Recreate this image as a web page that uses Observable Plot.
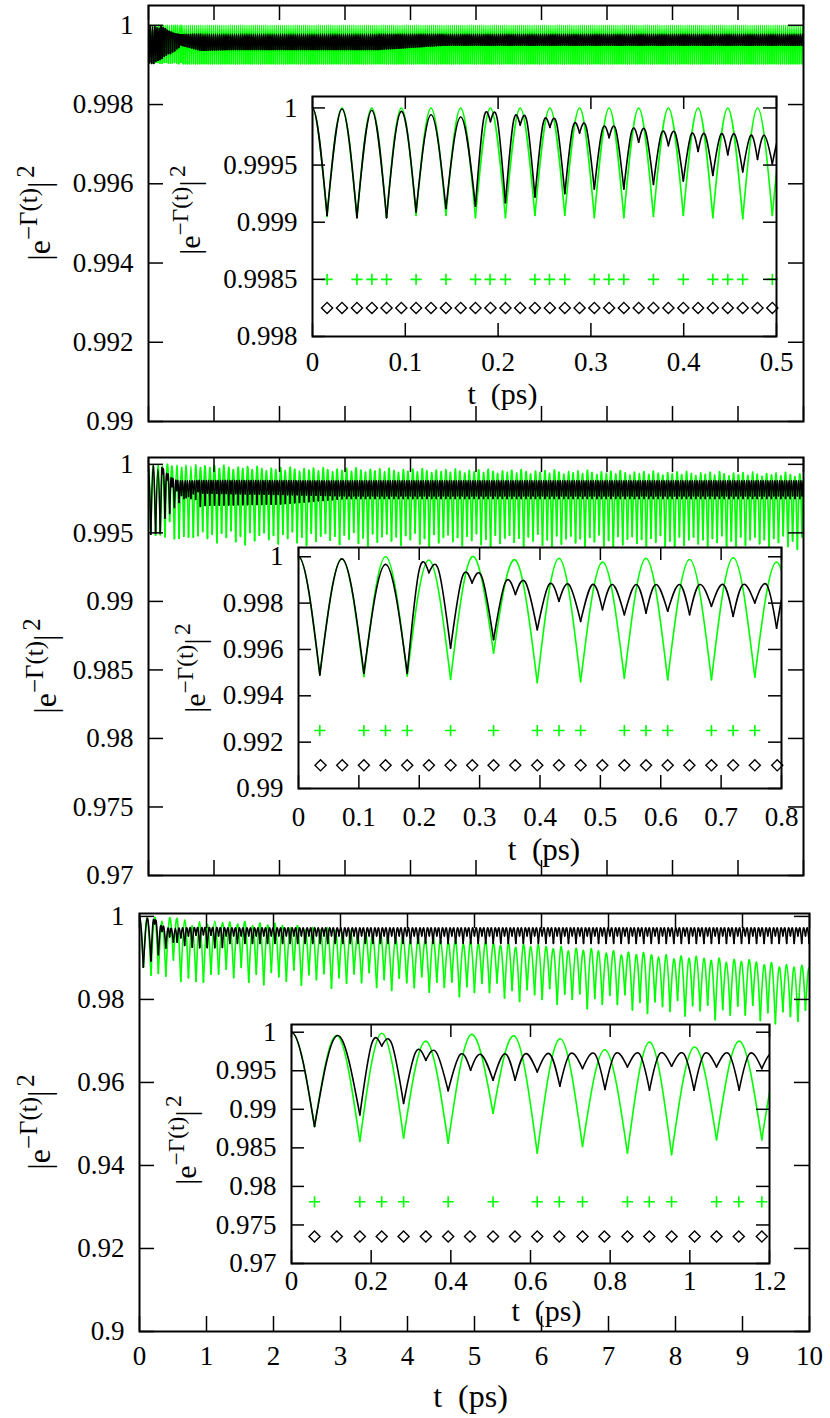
<!DOCTYPE html>
<html><head><meta charset="utf-8">
<script src="https://cdn.jsdelivr.net/npm/d3@7"></script>
<script src="https://cdn.jsdelivr.net/npm/@observablehq/plot@0.6"></script>
<style>
html,body{margin:0;padding:0;background:#fff;}
#root{position:relative;width:830px;height:1418px;overflow:hidden;background:#fff;font-family:'Liberation Serif','Times New Roman','DejaVu Serif',serif;}
#root svg, #root svg text, #root svg tspan{font-family:'Liberation Serif','Times New Roman','DejaVu Serif',serif !important;}
</style></head><body><div id="root"></div>
<script>
// ---------------- DATA ----------------
// Inset 1 (top panel, 0 - 0.5 ps). Trough times (first and last are just outside the axis range)
const in1TroughT = [-0.0160, 0.0157, 0.0479, 0.0798, 0.1116, 0.1438, 0.1756, 0.2079, 0.2397, 0.2719, 0.3037, 0.3355, 0.3674, 0.3996, 0.4314, 0.4636, 0.4955, 0.5275];
const in1GreenTroughV = [0.99904, 0.99905, 0.99904, 0.99904, 0.99906, 0.99906, 0.99904, 0.99904, 0.99906, 0.99906, 0.99904, 0.99904, 0.99905, 0.99906, 0.99904, 0.99903, 0.99906, 0.99904];
const in1GreenPeakV = [1.0, 1.0, 1.0, 1.0, 1.0, 1.0, 1.0, 1.0, 1.0, 1.0, 1.0, 1.0, 1.0, 1.0, 1.0, 1.0, 1.0];
const in1BlackTroughV = [0.99905, 0.99906, 0.99904, 0.99904, 0.99909, 0.99912, 0.99914, 0.99917, 0.99922, 0.99925, 0.99929, 0.99929, 0.99933, 0.99936, 0.99941, 0.99944, 0.99951, 0.99945];
const in1BlackHumpV = [1.0, 0.99999, 0.99998, 0.99997, 0.99994, 0.99992, 0.99990, 0.99988, 0.99986, 0.99983, 0.99981, 0.99980, 0.99978, 0.99977, 0.99977, 0.99976, 0.99976];
const in1BlackDipV = [null, null, null, null, null, null, 0.99988, 0.99985, 0.99983, 0.99978, 0.99974, 0.99970, 0.99967, 0.99962, 0.99959, 0.99955, 0.99950];
const in1PlusT = [0.0157, 0.0479, 0.0640, 0.0798, 0.1116, 0.1438, 0.1756, 0.1913, 0.2079, 0.2397, 0.2554, 0.2719, 0.3037, 0.3194, 0.3355, 0.3674, 0.3996, 0.4314, 0.4475, 0.4636, 0.4955];
const in1PlusV = 0.9985;
const in1DiamondT = [0.0157, 0.0318, 0.0479, 0.0640, 0.0798, 0.0957, 0.1116, 0.1277, 0.1438, 0.1597, 0.1756, 0.1918, 0.2079, 0.2238, 0.2397, 0.2558, 0.2719, 0.2878, 0.3037, 0.3196, 0.3355, 0.3515, 0.3674, 0.3835, 0.3996, 0.4155, 0.4314, 0.4475, 0.4636, 0.4795, 0.4955];
const in1DiamondV = 0.99825;

// Inset 2 (middle panel, 0 - 0.8 ps)
const in2TroughT = [-0.0353, 0.0353, 0.1083, 0.1801, 0.2519, 0.3231, 0.3955, 0.4673, 0.5397, 0.6115, 0.6840, 0.7558, 0.8279];
const in2GreenTroughV = [0.99490, 0.99490, 0.99483, 0.99486, 0.99471, 0.99584, 0.99457, 0.99461, 0.99476, 0.99469, 0.99469, 0.99480, 0.99470];
const in2GreenPeakV = [1.0, 0.99991, 1.0, 0.99986, 1.0, 0.99986, 0.99993, 0.99977, 0.99993, 0.99988, 0.99996, 0.99977];
const in2BlackTroughV = [0.99490, 0.99490, 0.99497, 0.99497, 0.99606, 0.99642, 0.99685, 0.99721, 0.99750, 0.99765, 0.99786, 0.99801, 0.99780];
const in2BlackHumpV = [1.0, 0.99991, 0.99967, 0.99938, 0.99912, 0.99890, 0.99880, 0.99880, 0.99880, 0.99880, 0.99880, 0.99880];
const in2BlackDipV = [null, null, null, 0.99931, 0.99887, 0.99837, 0.99808, 0.99772, 0.99757, 0.99750, 0.99743, 0.99692];
const in2PlusT = [0.0353, 0.1083, 0.1442, 0.1801, 0.2519, 0.3231, 0.3955, 0.4314, 0.4673, 0.5397, 0.5756, 0.6115, 0.6840, 0.7199, 0.7558];
const in2PlusV = 0.9925;
const in2DiamondT = [0.0365, 0.0724, 0.1083, 0.1442, 0.1801, 0.2160, 0.2519, 0.2878, 0.3231, 0.3590, 0.3955, 0.4314, 0.4673, 0.5032, 0.5397, 0.5756, 0.6115, 0.6474, 0.6840, 0.7199, 0.7558, 0.7929];
const in2DiamondV = 0.991;

// Inset 3 (bottom panel, 0 - 1.2 ps)
const in3TroughT = [-0.0578, 0.0578, 0.1716, 0.2814, 0.3933, 0.5060, 0.6169, 0.7306, 0.8434, 0.9542, 1.0670, 1.1807, 1.2935];
const in3GreenTroughV = [0.98777, 0.98777, 0.98584, 0.98627, 0.98562, 0.98948, 0.98433, 0.98519, 0.98433, 0.98412, 0.98605, 0.98605, 0.98550];
const in3GreenPeakV = [1.0, 0.99957, 0.99987, 0.99884, 0.99966, 0.99944, 0.99914, 0.99773, 0.99871, 0.99807, 0.99884, 0.99850];
const in3BlackTroughV = [0.98777, 0.98777, 0.98927, 0.99077, 0.99240, 0.99378, 0.99485, 0.99528, 0.99549, 0.99558, 0.99549, 0.99528, 0.99540];
const in3BlackHumpV = [1.0, 0.99957, 0.99850, 0.99742, 0.99712, 0.99720, 0.99721, 0.99721, 0.99721, 0.99721, 0.99721, 0.99720];
const in3BlackDipV = [null, null, 0.99820, 0.99635, 0.99506, 0.99378, 0.99300, 0.99258, 0.99249, 0.99249, 0.99249, 0.99250];
const in3PlusT = [0.0578, 0.1716, 0.2265, 0.2814, 0.3933, 0.5060, 0.6169, 0.6723, 0.7306, 0.8434, 0.8982, 0.9542, 1.0670, 1.1229, 1.1807];
const in3PlusV = 0.978;
const in3DiamondT = [0.0578, 0.1137, 0.1716, 0.2265, 0.2814, 0.3373, 0.3933, 0.4482, 0.5060, 0.5610, 0.6169, 0.6723, 0.7306, 0.7855, 0.8434, 0.8983, 0.9542, 1.0120, 1.0670, 1.1229, 1.1807];
const in3DiamondV = 0.9735;

// Main panels: oscillation period and envelopes (after the inset range)
const p1Period = 0.0320;
const p1GreenKnotT = [0, 10];
const p1GreenHi = [1.0, 1.0];
const p1GreenLo = [0.99903, 0.99903];
const p1BlackKnotT = [0.5, 0.8, 1.2, 3.5, 4.5, 10];
const p1BlackHi = [0.99977, 0.99978, 0.99978, 0.99978, 0.99978, 0.99978];
const p1BlackLo = [0.9995, 0.99937, 0.99939, 0.99939, 0.9995, 0.9995];

const p2Period = 0.07205;
const p2GreenKnotT = [0.8, 2, 4, 6, 8, 10];
const p2GreenHi = [0.9999, 0.9997, 0.9996, 0.9995, 0.9994, 0.9993];
const p2GreenLo = [0.9948, 0.9947, 0.9946, 0.9945, 0.9944, 0.9944];
const p2GreenLoVar = [0.0003, -0.0002, 0.0001, -0.0005, 0.0002, -0.0001, 0.0004, -0.0004, 0.0000, -0.0006, 0.0003, -0.0003, 0.0001];
const p2GreenHiVar = [0, -0.0001, 0.00005, -0.00015, 0.0001, -0.00005, -0.0002];
const p2BlackKnotT = [0.8, 2, 3, 10];
const p2BlackHi = [0.9988, 0.9988, 0.9988, 0.9988];
const p2BlackLo = [0.9979, 0.9978, 0.9977, 0.9977];
const p2BlackDip = [0.9970, 0.9971, 0.9975, 0.9975];

const p3Period = 0.11229;
const p3GreenKnotT = [1.2, 2, 3, 4, 5, 6, 7, 8, 9, 10];
const p3GreenHi = [0.9988, 0.998, 0.9965, 0.9948, 0.9937, 0.9928, 0.9915, 0.9903, 0.9893, 0.9876];
const p3GreenLo = [0.9858, 0.9855, 0.9848, 0.984, 0.9825, 0.981, 0.9795, 0.978, 0.9768, 0.9755];
const p3GreenLoVar = [0.0015, -0.0005, 0.0020, -0.0015, 0.0005, -0.0020, 0.0010, 0.0000, -0.0010, 0.0018, -0.0018, 0.0008, -0.0003, 0.0012, -0.0022, 0.0004, -0.0008];
const p3GreenHiVar = [0, -0.0004, 0.0003, -0.0006, 0.0002, -0.0002, 0.0004];
const p3BlackKnotT = [1.2, 10];
const p3BlackHi = [0.9972, 0.9972];
const p3BlackLo = [0.9953, 0.9953];
const p3BlackDip = [0.9935, 0.9935];

// Ticks
const mainXTicks = [0, 1, 2, 3, 4, 5, 6, 7, 8, 9, 10];
const mainXLabels = ["0", "1", "2", "3", "4", "5", "6", "7", "8", "9", "10"];
const p1YTicks = [0.99, 0.992, 0.994, 0.996, 0.998, 1];
const p1YLabels = ["0.99", "0.992", "0.994", "0.996", "0.998", "1"];
const p2YTicks = [0.97, 0.975, 0.98, 0.985, 0.99, 0.995, 1];
const p2YLabels = ["0.97", "0.975", "0.98", "0.985", "0.99", "0.995", "1"];
const p3YTicks = [0.9, 0.92, 0.94, 0.96, 0.98, 1];
const p3YLabels = ["0.9", "0.92", "0.94", "0.96", "0.98", "1"];
const in1XTicks = [0, 0.1, 0.2, 0.3, 0.4, 0.5];
const in1XLabels = ["0", "0.1", "0.2", "0.3", "0.4", "0.5"];
const in1YTicks = [0.998, 0.9985, 0.999, 0.9995, 1];
const in1YLabels = ["0.998", "0.9985", "0.999", "0.9995", "1"];
const in2XTicks = [0, 0.1, 0.2, 0.3, 0.4, 0.5, 0.6, 0.7, 0.8];
const in2XLabels = ["0", "0.1", "0.2", "0.3", "0.4", "0.5", "0.6", "0.7", "0.8"];
const in2YTicks = [0.99, 0.992, 0.994, 0.996, 0.998, 1];
const in2YLabels = ["0.99", "0.992", "0.994", "0.996", "0.998", "1"];
const in3XTicks = [0, 0.2, 0.4, 0.6, 0.8, 1, 1.2];
const in3XLabels = ["0", "0.2", "0.4", "0.6", "0.8", "1", "1.2"];
const in3YTicks = [0.97, 0.975, 0.98, 0.985, 0.99, 0.995, 1];
const in3YLabels = ["0.97", "0.975", "0.98", "0.985", "0.99", "0.995", "1"];
const xTitleText = "t\u00a0\u00a0(ps)";

// ---------------- BUILD ----------------
const root = document.getElementById("root");
const FONT = "'Liberation Serif','Times New Roman','DejaVu Serif',serif";
const GREEN = "#00ff00";

function lin(kt, kv) { return kt.length > 1 ? d3.scaleLinear().domain(kt).range(kv).clamp(true) : () => kv[0]; }

function archPoints(T, V, H, D) {
  const pts = []; let z = 0;
  for (let i = 0; i < T.length - 1; i++) {
    const t0 = T[i], t1 = T[i + 1], w = t1 - t0, h = H[i], d = D ? D[i] : null;
    if (d == null || d >= h) {
      pts.push({t: t0, v: V[i], z}, {t: t0 + w / 2, v: h, z}, {t: t1, v: V[i + 1], z}); z++;
    } else {
      pts.push({t: t0, v: V[i], z}, {t: t0 + 0.27 * w, v: h, z}, {t: t0 + w / 2, v: d, z}); z++;
      pts.push({t: t0 + w / 2, v: d, z}, {t: t0 + 0.73 * w, v: h, z}, {t: t1, v: V[i + 1], z}); z++;
    }
  }
  return pts;
}

function mainSeries(inT, inV, inH, inD, period, xMax, lo, hi, dip, loVar, hiVar) {
  const T = inT.slice(0, -1), V = inV.slice(0, -1), H = inH.slice(), D = inD ? inD.slice() : null;
  let k = 0;
  for (let t = inT[inT.length - 1]; t <= xMax + period; t += period, k++) {
    T.push(t);
    V.push(lo(t) + (loVar ? loVar[k % loVar.length] : 0));
    H.push(hi(t + period / 2) + (hiVar ? hiVar[k % hiVar.length] : 0));
    if (D) D.push(dip ? dip(t + period / 2) : null);
  }
  return archPoints(T, V, H, D);
}

function curve(pts, color, w) {
  return Plot.line(pts, {x: "t", y: "v", z: "z", stroke: color, strokeWidth: w, curve: "natural", clip: true});
}
function markers(plusT, plusV, diaT, diaV) {
  return [
    Plot.dot(plusT, {x: d => d, y: () => plusV, symbol: "plus", stroke: GREEN, strokeWidth: 1.6, r: 3.7}),
    Plot.dot(diaT, {x: d => d, y: () => diaV, symbol: "diamond2", stroke: "black", fill: "none", strokeWidth: 1.4, r: 5})
  ];
}

function yTitle(svg, x, y, size) {
  const t = d3.select(svg).append("text")
    .attr("transform", `translate(${x},${y}) rotate(-90)`)
    .attr("text-anchor", "middle").attr("font-family", FONT).attr("font-size", size).attr("fill", "black");
  t.append("tspan").text("|e");
  t.append("tspan").attr("dy", -0.4 * size).attr("font-size", 0.78 * size).text("\u2212\u0393(t)");
  t.append("tspan").attr("dy", 0.4 * size).text("|");
  t.append("tspan").attr("dy", -0.5 * size).attr("dx", 0.12 * size).attr("font-size", 0.78 * size).text("2");
}

function makePlot(c) {
  const fw = c.width - c.mL - c.mR, fh = c.height - c.mT - c.mB;
  const yFmt = new Map(c.yTicks.map((d, i) => [d, c.yLabels[i]]));
  const tickStyle = {stroke: "black", strokeWidth: 1.5};
  const marks = [];
  if (c.whiteBg) marks.push(Plot.frame({fill: "white", stroke: "none"}));
  marks.push(...c.marks);
  marks.push(
    Plot.tickY(c.yTicks, {y: d => d, insetRight: fw - c.tick, ...tickStyle}),
    Plot.tickY(c.yTicks, {y: d => d, insetLeft: fw - c.tick, ...tickStyle}),
    Plot.tickX(c.xTicks, {x: d => d, insetTop: fh - c.tick, ...tickStyle}),
    Plot.tickX(c.xTicks, {x: d => d, insetBottom: fh - c.tick, ...tickStyle}),
    Plot.axisY(c.yTicks, {anchor: "left", tickSize: 0, tickPadding: c.yPad, tickFormat: d => yFmt.get(d), label: null, fontSize: c.fs, fontFamily: FONT}),
    Plot.frame({stroke: "black", strokeWidth: 2})
  );
  if (c.xLabels) {
    const xFmt = new Map(c.xTicks.map((d, i) => [d, c.xLabels[i]]));
    marks.push(Plot.axisX(c.xTicks, {anchor: "bottom", tickSize: 0, tickPadding: c.xPad, tickFormat: d => xFmt.get(d), label: null, fontSize: c.fs, fontFamily: FONT}));
  }
  if (c.xTitle) marks.push(Plot.text([c.xTitle.text], {frameAnchor: "bottom", dx: c.xTitle.dx, dy: c.xTitle.dy, fontSize: c.xTitle.size, fontFamily: FONT, lineAnchor: "middle", text: d => d}));
  const svg = Plot.plot({
    width: c.width, height: c.height, marginLeft: c.mL, marginRight: c.mR, marginTop: c.mT, marginBottom: c.mB,
    x: {domain: c.xDom, axis: null}, y: {domain: c.yDom, axis: null},
    style: {background: "transparent", fontFamily: FONT, fontSize: c.fs + "px", color: "black", position: "absolute", left: c.left + "px", top: c.top + "px", overflow: "visible", maxWidth: "none"},
    marks
  });
  svg.setAttribute("font-family", FONT);
  if (c.yTitle) yTitle(svg, c.yTitle.x - c.left, c.yTitle.y - c.top, c.yTitle.size);
  root.appendChild(svg);
  return svg;
}

// Panel 1
const p1Green = mainSeries(in1TroughT, in1GreenTroughV, in1GreenPeakV, null, p1Period, 10, lin(p1GreenKnotT, p1GreenLo), lin(p1GreenKnotT, p1GreenHi), null);
const p1Black = mainSeries(in1TroughT, in1BlackTroughV, in1BlackHumpV, in1BlackDipV, p1Period, 10, lin(p1BlackKnotT, p1BlackLo), lin(p1BlackKnotT, p1BlackHi), null);
makePlot({left: 0, top: 0, width: 830, height: 445, mL: 148, mR: 27, mT: 5, mB: 24,
  xDom: [0, 10], yDom: [0.99, 1.0005], xTicks: mainXTicks, yTicks: p1YTicks, yLabels: p1YLabels,
  tick: 15, yPad: 15, fs: 27,
  marks: [curve(p1Green, GREEN, 1.5), curve(p1Black, "black", 1.7)],
  yTitle: {x: 50, y: 213, size: 32}});

// Panel 2
const p2Green = mainSeries(in2TroughT, in2GreenTroughV, in2GreenPeakV, null, p2Period, 10, lin(p2GreenKnotT, p2GreenLo), lin(p2GreenKnotT, p2GreenHi), null, p2GreenLoVar, p2GreenHiVar);
const p2Black = mainSeries(in2TroughT, in2BlackTroughV, in2BlackHumpV, in2BlackDipV, p2Period, 10, lin(p2BlackKnotT, p2BlackLo), lin(p2BlackKnotT, p2BlackHi), lin(p2BlackKnotT, p2BlackDip));
makePlot({left: 0, top: 445, width: 830, height: 445, mL: 148, mR: 27, mT: 12, mB: 15,
  xDom: [0, 10], yDom: [0.97, 1.0005], xTicks: mainXTicks, yTicks: p2YTicks, yLabels: p2YLabels,
  tick: 15, yPad: 15, fs: 27,
  marks: [curve(p2Green, GREEN, 1.7), curve(p2Black, "black", 1.5)],
  yTitle: {x: 56, y: 666, size: 32}});

// Panel 3
const p3Green = mainSeries(in3TroughT, in3GreenTroughV, in3GreenPeakV, null, p3Period, 10, lin(p3GreenKnotT, p3GreenLo), lin(p3GreenKnotT, p3GreenHi), null, p3GreenLoVar, p3GreenHiVar);
const p3Black = mainSeries(in3TroughT, in3BlackTroughV, in3BlackHumpV, in3BlackDipV, p3Period, 10, lin(p3BlackKnotT, p3BlackLo), lin(p3BlackKnotT, p3BlackHi), lin(p3BlackKnotT, p3BlackDip));
makePlot({left: 0, top: 890, width: 830, height: 528, mL: 139, mR: 21, mT: 23, mB: 87,
  xDom: [0, 10], yDom: [0.9, 1.0007], xTicks: mainXTicks, xLabels: mainXLabels, yTicks: p3YTicks, yLabels: p3YLabels,
  tick: 15, yPad: 15, xPad: 14, fs: 27,
  marks: [curve(p3Green, GREEN, 1.6), curve(p3Black, "black", 1.6)],
  xTitle: {text: xTitleText, dx: -4, dy: 65, size: 32},
  yTitle: {x: 50, y: 1122, size: 32}});

// Inset 1
makePlot({left: 150, top: 90, width: 650, height: 320, mL: 162, mR: 24, mT: 6, mB: 74, whiteBg: true,
  xDom: [0, 0.5], yDom: [0.998, 1.0001], xTicks: in1XTicks, xLabels: in1XLabels, yTicks: in1YTicks, yLabels: in1YLabels,
  tick: 13, yPad: 15, xPad: 15, fs: 27,
  marks: [curve(archPoints(in1TroughT, in1GreenTroughV, in1GreenPeakV, null), GREEN, 1.6),
          curve(archPoints(in1TroughT, in1BlackTroughV, in1BlackHumpV, in1BlackDipV), "black", 1.6),
          ...markers(in1PlusT, in1PlusV, in1DiamondT, in1DiamondV)],
  xTitle: {text: xTitleText, dx: -42, dy: 58, size: 30},
  yTitle: {x: 200, y: 210, size: 30}});

// Inset 2
makePlot({left: 150, top: 540, width: 650, height: 330, mL: 148, mR: 19, mT: 7, mB: 82, whiteBg: true,
  xDom: [0, 0.8], yDom: [0.99, 1.0004], xTicks: in2XTicks, xLabels: in2XLabels, yTicks: in2YTicks, yLabels: in2YLabels,
  tick: 13, yPad: 15, xPad: 18, fs: 27,
  marks: [curve(archPoints(in2TroughT, in2GreenTroughV, in2GreenPeakV, null), GREEN, 1.6),
          curve(archPoints(in2TroughT, in2BlackTroughV, in2BlackHumpV, in2BlackDipV), "black", 1.6),
          ...markers(in2PlusT, in2PlusV, in2DiamondT, in2DiamondV)],
  xTitle: {text: xTitleText, dx: 4, dy: 62, size: 31},
  yTitle: {x: 205, y: 668, size: 30}});

// Inset 3
makePlot({left: 150, top: 1015, width: 650, height: 310, mL: 141, mR: 31, mT: 9, mB: 62, whiteBg: true,
  xDom: [0, 1.2], yDom: [0.97, 1.001], xTicks: in3XTicks, xLabels: in3XLabels, yTicks: in3YTicks, yLabels: in3YLabels,
  tick: 13, yPad: 15, xPad: 7, fs: 27,
  marks: [curve(archPoints(in3TroughT, in3GreenTroughV, in3GreenPeakV, null), GREEN, 1.6),
          curve(archPoints(in3TroughT, in3BlackTroughV, in3BlackHumpV, in3BlackDipV), "black", 1.6),
          ...markers(in3PlusT, in3PlusV, in3DiamondT, in3DiamondV)],
  xTitle: {text: xTitleText, dx: 16, dy: 48, size: 30},
  yTitle: {x: 196, y: 1140, size: 30}});
</script></body></html>
